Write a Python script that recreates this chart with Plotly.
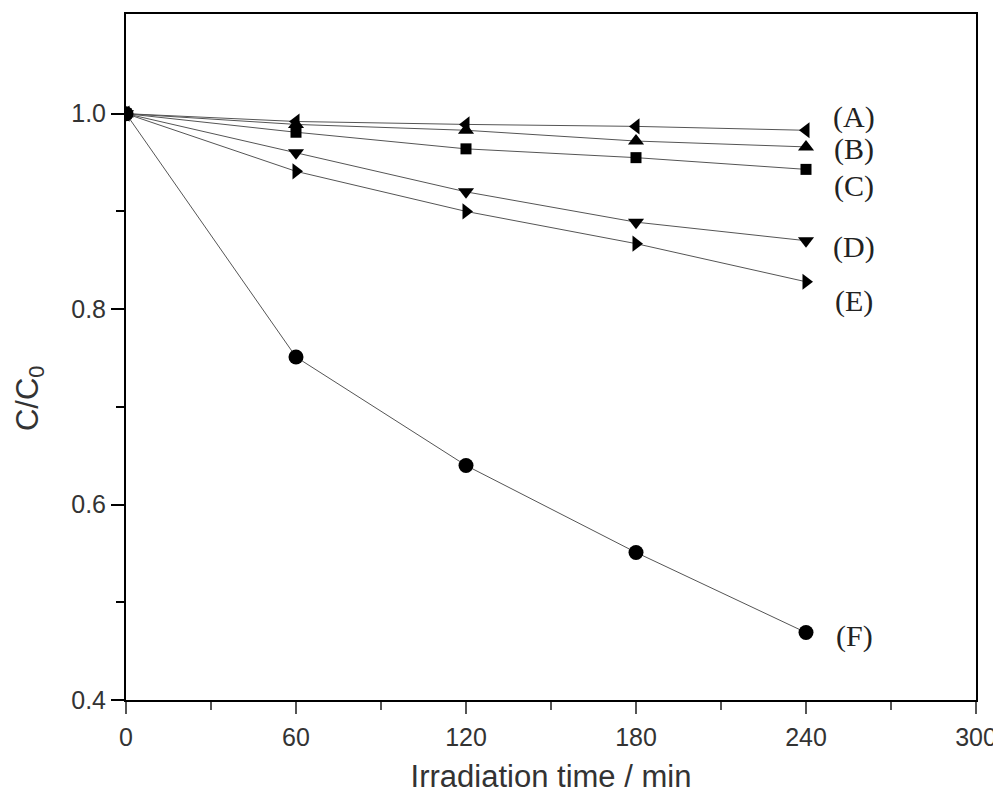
import plotly.graph_objects as go

time_min = [0, 60, 120, 180, 240]
series_A = [1.0, 0.992, 0.989, 0.987, 0.983]
series_B = [1.0, 0.989, 0.983, 0.972, 0.966]
series_C = [1.0, 0.981, 0.964, 0.955, 0.943]
series_D = [1.0, 0.960, 0.920, 0.889, 0.870]
series_E = [1.0, 0.941, 0.900, 0.867, 0.828]
series_F = [1.0, 0.751, 0.640, 0.551, 0.469]
labels = ["(A)", "(B)", "(C)", "(D)", "(E)", "(F)"]
label_y = [0.997, 0.964, 0.926, 0.864, 0.808, 0.466]
label_x = 257

fig = go.Figure()
specs = [
    (series_A, "triangle-left", 14),
    (series_B, "triangle-up", 14),
    (series_C, "square", 11),
    (series_D, "triangle-down", 14),
    (series_E, "triangle-right", 14),
    (series_F, "circle", 15),
]
for (vals, sym, sz), name in zip(specs, labels):
    fig.add_trace(go.Scatter(
        x=time_min, y=vals, mode="lines+markers", name=name,
        line=dict(color="#555555", width=1),
        marker=dict(symbol=sym, size=sz, color="black"),
        showlegend=False,
    ))

for lab, ly in zip(labels, label_y):
    fig.add_annotation(x=label_x, y=ly, text=lab, showarrow=False,
                       xanchor="center", yanchor="middle",
                       font=dict(family="Liberation Serif", size=30, color="#222"))

# y-axis title (placed slightly below the axis centre, as in the original)
fig.add_annotation(xref="paper", yref="paper", x=-0.113, y=0.44,
                   text="C/C<sub>0</sub>", textangle=-90, showarrow=False,
                   xanchor="center", yanchor="middle",
                   font=dict(family="Liberation Sans", size=31, color="#333"))

# page body adds an 8px margin, so the figure is sized/margined to compensate
fig.update_layout(
    width=993, height=786,
    margin=dict(l=118, r=25, t=4, b=94),
    plot_bgcolor="white", paper_bgcolor="white",
    font=dict(family="Liberation Sans", color="#333"),
)
fig.update_xaxes(
    range=[0, 300], tickvals=[0, 60, 120, 180, 240, 300],
    showline=True, linecolor="black", linewidth=2, mirror=True,
    ticks="outside", ticklen=12, tickwidth=1.5, tickcolor="#555",
    minor=dict(tickvals=[30, 90, 150, 210, 270], ticks="outside", ticklen=8, tickcolor="#555"),
    showgrid=False, zeroline=False,
    ticklabelstandoff=2,
    tickfont=dict(size=25, color="#333"),
    title=dict(text="Irradiation time / min", font=dict(size=31, color="#333"), standoff=15),
)
fig.update_yaxes(
    range=[0.4, 1.102], tickvals=[0.4, 0.6, 0.8, 1.0], ticktext=["0.4", "0.6", "0.8", "1.0"],
    showline=True, linecolor="black", linewidth=2, mirror=True,
    ticks="outside", ticklen=13, tickwidth=1.5, tickcolor="black",
    minor=dict(tickvals=[0.5, 0.7, 0.9], ticks="outside", ticklen=8, tickcolor="black"),
    showgrid=False, zeroline=False,
    tickfont=dict(size=25, color="#333"),
)

fig.write_html("out.html")
